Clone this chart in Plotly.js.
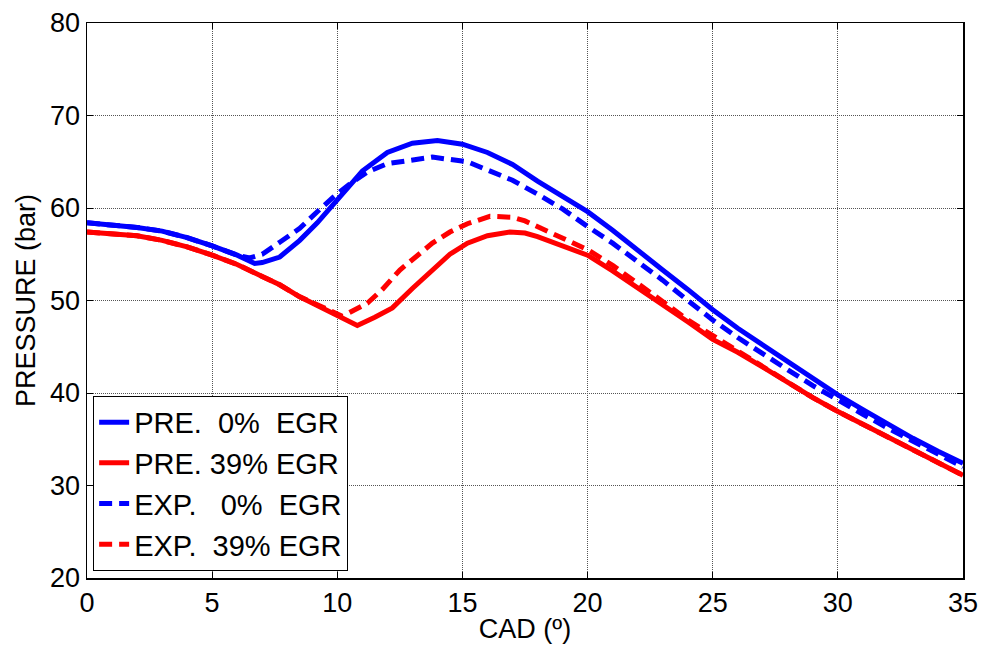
<!DOCTYPE html>
<html>
<head>
<meta charset="utf-8">
<script src="https://cdn.plot.ly/plotly-3.0.1.min.js"></script>
<style>html,body{margin:0;padding:0;background:#fff;}#chart{width:982px;height:646px;}</style>
</head>
<body>
<div id="chart"></div>
<script>
// PRE. 0% EGR (solid blue)
const cadPre0 = [0,1,2,3,4,5,6,6.7,7,7.7,8.5,9.2,10,11,12,13,14,15,16,17,18,19,20,21,22,23,24,25,26,27,28,29,30,31,32,33,34,35];
const pPre0   = [58.4,58.2,57.9,57.5,56.8,55.9,54.9,54.0,54.1,54.7,56.5,58.4,60.9,64.0,66.0,67.0,67.3,66.9,66.0,64.7,62.9,61.3,59.6,57.6,55.4,53.3,51.2,49.0,47.0,45.2,43.3,41.5,39.8,38.2,36.6,35.1,33.7,32.4];
// PRE. 39% EGR (solid red)
const cadPre39 = [0,1,2,3,4,5,6,7,7.7,8.5,9.5,10.2,10.8,11.5,12.2,13,13.8,14.5,15.2,16,16.9,17.5,18,18.5,19,20,21,22,23,24,25,26,27,28,29,30,31,32,33,34,35];
const pPre39   = [57.4,57.2,57.0,56.5,55.8,54.9,53.9,52.6,51.7,50.4,49.1,48.2,47.3,48.2,49.2,51.3,53.3,55.0,56.2,57.0,57.4,57.3,56.9,56.4,55.8,54.9,53.2,51.4,49.6,47.7,45.8,44.4,42.8,41.1,39.5,38.0,36.6,35.2,33.8,32.4,31.1];
// EXP. 0% EGR (dashed blue)
const cadExp0 = [0,1,2,3,4,5,6,6.5,7,7.7,8.5,9.2,9.85,10.5,11.2,12,12.5,13.8,15.2,16.5,17,18,19,20,21,22,23,24,25,26,27,28,29,30,31,32,33,34,35];
const pExp0   = [58.4,58.2,57.9,57.5,56.8,55.9,54.9,54.6,55.0,56.3,57.8,59.6,61.2,62.6,63.9,64.8,65.0,65.5,65.0,63.6,63.0,61.5,59.9,58.0,56.2,54.2,52.2,50.0,47.9,46.0,44.2,42.5,40.8,39.2,37.7,36.2,34.8,33.3,32.0];
// EXP. 39% EGR (dashed red)
const cadExp39 = [0,1,2,3,4,5,6,7,7.7,8.5,9.5,10.2,11.2,11.8,12.5,13.2,13.8,14.5,15.2,16.1,17,17.5,18,18.5,19,20,21,22,23,24,25,26,27,28,29,30,31,32,33,34,35];
const pExp39   = [57.4,57.2,57.0,56.5,55.8,54.9,53.9,52.6,51.7,50.4,49.1,48.3,49.7,51.2,53.3,54.9,56.2,57.4,58.3,59.1,59.0,58.6,58.0,57.4,56.8,55.5,53.8,51.9,49.9,47.9,46.2,44.5,42.8,41.1,39.5,38.0,36.6,35.2,33.8,32.4,31.1];

const names = ['PRE.\u00a0\u00a00%\u00a0\u00a0EGR','PRE.\u00a039%\u00a0EGR','EXP.\u00a0\u00a0\u00a00%\u00a0\u00a0EGR','EXP.\u00a0\u00a039%\u00a0EGR'];
const xTicks = [0,5,10,15,20,25,30,35];
const yTicks = [20,30,40,50,60,70,80];

const traces = [
  {x: cadPre0, y: pPre0, name: names[0], mode:'lines', line:{color:'#0000ff', width:5}},
  {x: cadPre39, y: pPre39, name: names[1], mode:'lines', line:{color:'#ff0000', width:5}},
  {x: cadExp0, y: pExp0, name: names[2], mode:'lines', line:{color:'#0000ff', width:5, dash:'13px,7px'}},
  {x: cadExp39, y: pExp39, name: names[3], mode:'lines', line:{color:'#ff0000', width:5, dash:'13px,7px'}}
];

const font = {family:'Arial, "Liberation Sans", sans-serif', size:27, color:'#000'};
const legendFont = {family:'Arial, "Liberation Sans", sans-serif', size:29, color:'#000'};
const axisCommon = {
  showline:true, linecolor:'#000', linewidth:1.5, mirror:'ticks',
  ticks:'inside', ticklen:6, tickwidth:1, tickcolor:'#000',
  showgrid:true, gridcolor:'#555', gridwidth:1, griddash:'1px,1px',
  zeroline:false, tickfont:font
};

const layout = {
  width:982, height:646,
  margin:{l:87, r:19, t:23, b:68},
  paper_bgcolor:'#fff', plot_bgcolor:'#fff',
  font:font,
  showlegend:true,
  xaxis: Object.assign({}, axisCommon, {
    range:[0,35], tickvals:xTicks, ticktext:xTicks.map(String),
    title:{text:'CAD (º)', font:font, standoff:2}
  }),
  yaxis: Object.assign({}, axisCommon, {
    range:[20,80], tickvals:yTicks, ticktext:yTicks.map(String),
    title:{text:'PRESSURE (bar)', font:font, standoff:6}
  }),
  legend:{
    x:0.007, y:0.013, xanchor:'left', yanchor:'bottom',
    bgcolor:'#fff', bordercolor:'#000', borderwidth:1,
    font:legendFont, tracegroupgap:0
  }
};

Plotly.newPlot('chart', traces, layout, {displayModeBar:false, staticPlot:true});
</script>
</body>
</html>
